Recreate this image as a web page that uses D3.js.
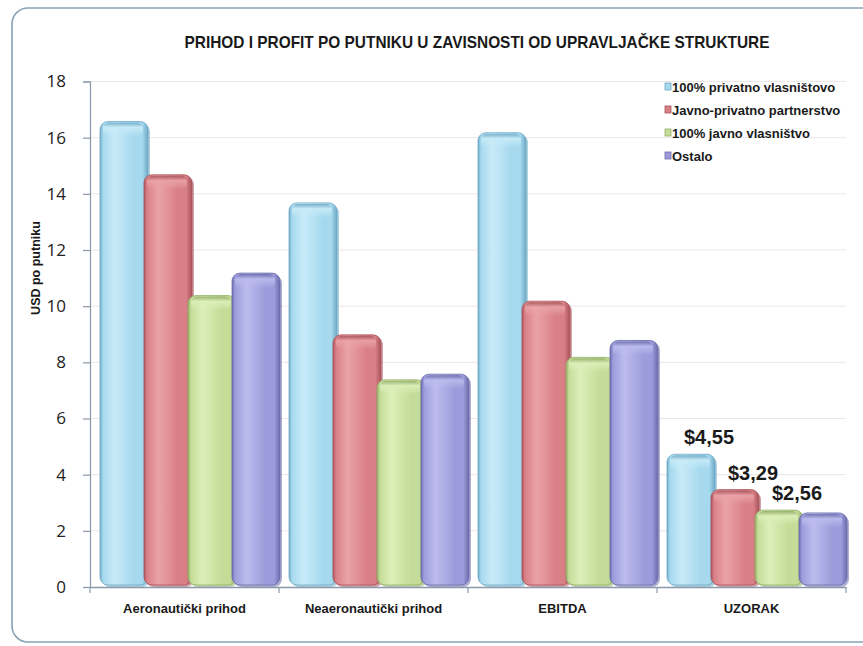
<!DOCTYPE html>
<html>
<head>
<meta charset="utf-8">
<script src="https://cdn.jsdelivr.net/npm/d3@7/dist/d3.min.js"></script>
<style>
  html, body { margin: 0; padding: 0; background: #ffffff; }
  svg { display: block; }
</style>
</head>
<body>
<svg id="chart" width="863" height="646"></svg>
<script>
// ---- data ----
const categories = ["Aeronautički prihod", "Neaeronautički prihod", "EBITDA", "UZORAK"];
const seriesNames = ["100% privatno vlasništovo", "Javno-privatno partnerstvo", "100% javno vlasništvo", "Ostalo"];
const privatno = [16.4, 13.5, 16.0, 4.55];
const javnoPrivatno = [14.5, 8.8, 10.0, 3.29];
const javno = [10.2, 7.2, 8.0, 2.56];
const ostalo = [11.0, 7.4, 8.6, 2.46];
const yTicks = [0, 2, 4, 6, 8, 10, 12, 14, 16, 18];
const valueLabels = [
  { cat: "UZORAK", series: 0, text: "$4,55" },
  { cat: "UZORAK", series: 1, text: "$3,29" },
  { cat: "UZORAK", series: 2, text: "$2,56" }
];
const seriesValues = [privatno, javnoPrivatno, javno, ostalo];

(function () {
const palette = [
  { base: "#a6d9ee", light: "#c8ebf8", dark: "#6fa9c6" },
  { base: "#d97f86", light: "#eaa3a8", dark: "#a9545b" },
  { base: "#c3dd98", light: "#dcefb9", dark: "#93ae68" },
  { base: "#9c9cdc", light: "#bcbcee", dark: "#6c6cac" }
];

const svg = d3.select("#chart");
const defs = svg.append("defs");

// frame
svg.append("rect")
  .attr("x", 12).attr("y", 8).attr("width", 880).attr("height", 634)
  .attr("rx", 16).attr("ry", 16)
  .attr("fill", "#ffffff").attr("stroke", "#86a2b8").attr("stroke-width", 1.6);

const mLeft = 90, mRight = 846, mTop = 81.5, mBottom = 587;
const y = d3.scaleLinear().domain([0, 18]).range([mBottom, mTop]);
const x0 = d3.scaleBand().domain(categories).range([mLeft, mRight]).paddingInner(0).paddingOuter(0);
const x1 = d3.scaleBand().domain(d3.range(4)).range([10, 186]).padding(0);

// gridlines
svg.append("g").selectAll("line").data(yTicks.filter(t => t > 0)).join("line")
  .attr("x1", mLeft).attr("x2", mRight)
  .attr("y1", d => y(d)).attr("y2", d => y(d))
  .attr("stroke", "#ece6e6").attr("stroke-width", 1);

// gradients
palette.forEach((p, i) => {
  const g = defs.append("linearGradient").attr("id", "grad" + i)
    .attr("x1", "0%").attr("x2", "100%").attr("y1", "0%").attr("y2", "0%");
  g.append("stop").attr("offset", "0%").attr("stop-color", p.dark);
  g.append("stop").attr("offset", "6%").attr("stop-color", p.base);
  g.append("stop").attr("offset", "30%").attr("stop-color", p.light);
  g.append("stop").attr("offset", "70%").attr("stop-color", p.base);
  g.append("stop").attr("offset", "88%").attr("stop-color", p.base);
  g.append("stop").attr("offset", "100%").attr("stop-color", p.dark);
  const gv = defs.append("linearGradient").attr("id", "cap" + i)
    .attr("x1", "0%").attr("x2", "0%").attr("y1", "0%").attr("y2", "100%");
  gv.append("stop").attr("offset", "0%").attr("stop-color", p.dark).attr("stop-opacity", 0.9);
  gv.append("stop").attr("offset", "35%").attr("stop-color", p.light).attr("stop-opacity", 0.9);
  gv.append("stop").attr("offset", "100%").attr("stop-color", p.light).attr("stop-opacity", 0);
});

// bars
const barW = x1.bandwidth() + 4;
const bars = svg.append("g");
categories.forEach((c, ci) => {
  seriesValues.forEach((vals, si) => {
    const v = vals[ci];
    const bx = x0(c) + x1(si);
    const by = y(v) - 5;
    const bh = mBottom - 2 - by;
    const g = bars.append("g");
    g.append("rect")
      .attr("x", bx + 2).attr("y", by + 2).attr("width", barW).attr("height", bh)
      .attr("rx", 8).attr("fill", palette[si].dark).attr("opacity", 0.55);
    g.append("rect")
      .attr("x", bx).attr("y", by).attr("width", barW).attr("height", bh)
      .attr("rx", 8).attr("fill", "url(#grad" + si + ")")
      .attr("stroke", palette[si].dark).attr("stroke-width", 0.8);
    g.append("rect")
      .attr("x", bx + 3).attr("y", by + 1).attr("width", barW - 8).attr("height", 14)
      .attr("rx", 6).attr("fill", "url(#cap" + si + ")");
  });
});

// value labels
svg.append("g").selectAll("text").data(valueLabels).join("text")
  .attr("x", d => x0(d.cat) + x1(d.series) + barW / 2 + 18)
  .attr("y", d => y(seriesValues[d.series][categories.indexOf(d.cat)]) - 15)
  .attr("text-anchor", "middle")
  .attr("font-family", "'Liberation Sans Narrow', 'Liberation Sans', sans-serif")
  .attr("font-weight", "bold").attr("font-size", 20).attr("fill", "#1a1a1a")
  .text(d => d.text);

// y axis
const yAxis = svg.append("g").attr("transform", `translate(${mLeft},0)`)
  .call(d3.axisLeft(y).tickValues(yTicks).tickSize(7).tickPadding(17).tickFormat(d3.format("d")));
yAxis.select(".domain").attr("stroke", "#8a98ac").attr("stroke-width", 1.2);
yAxis.selectAll(".tick line").attr("stroke", "#8a98ac").attr("stroke-width", 1.2);
yAxis.selectAll(".tick text")
  .attr("font-family", "'Open Sans', 'Liberation Sans', sans-serif")
  .attr("font-size", 17).attr("fill", "#222");

// x axis
const xAxis = svg.append("g").attr("transform", `translate(0,${mBottom})`)
  .call(d3.axisBottom(x0).tickSize(0).tickPadding(17));
xAxis.select(".domain").attr("stroke", "#8a98ac").attr("stroke-width", 1.4);
xAxis.selectAll(".tick text")
  .attr("font-family", "'Liberation Sans Narrow', 'Liberation Sans', sans-serif")
  .attr("font-weight", "bold").attr("font-size", 13).attr("fill", "#1a1a1a");
const boundaries = categories.map(c => x0(c)).concat([mRight]);
svg.append("g").selectAll("line").data(boundaries).join("line")
  .attr("x1", d => d).attr("x2", d => d)
  .attr("y1", mBottom).attr("y2", mBottom + 6)
  .attr("stroke", "#8a98ac").attr("stroke-width", 1.2);

// y axis title
svg.append("text")
  .attr("transform", "translate(40,268) rotate(-90)")
  .attr("text-anchor", "middle")
  .attr("font-family", "'Liberation Sans Narrow', 'Liberation Sans', sans-serif")
  .attr("font-weight", "bold").attr("font-size", 12.5).attr("fill", "#1a1a1a")
  .text("USD po putniku");

// title
svg.append("text")
  .attr("x", 477).attr("y", 48)
  .attr("text-anchor", "middle")
  .attr("font-family", "'Liberation Sans Narrow', 'Liberation Sans', sans-serif")
  .attr("font-weight", "bold").attr("font-size", 17).attr("fill", "#1a1a1a")
  .attr("textLength", 585).attr("lengthAdjust", "spacingAndGlyphs")
  .text("PRIHOD I PROFIT PO PUTNIKU U ZAVISNOSTI OD UPRAVLJAČKE STRUKTURE");

// legend
const legend = svg.append("g").attr("transform", "translate(665,87)");
const li = legend.selectAll("g").data(seriesNames).join("g")
  .attr("transform", (d, i) => `translate(0,${i * 23})`);
li.append("rect").attr("x", 0).attr("y", -4).attr("width", 6).attr("height", 7)
  .attr("fill", (d, i) => palette[i].base).attr("stroke", (d, i) => palette[i].dark).attr("stroke-width", 0.8);
li.append("text").attr("x", 7).attr("y", 4.5)
  .attr("font-family", "'Liberation Sans Narrow', 'Liberation Sans', sans-serif")
  .attr("font-weight", "bold").attr("font-size", 13).attr("fill", "#1a1a1a")
  .text(d => d);
})();
</script>
</body>
</html>
